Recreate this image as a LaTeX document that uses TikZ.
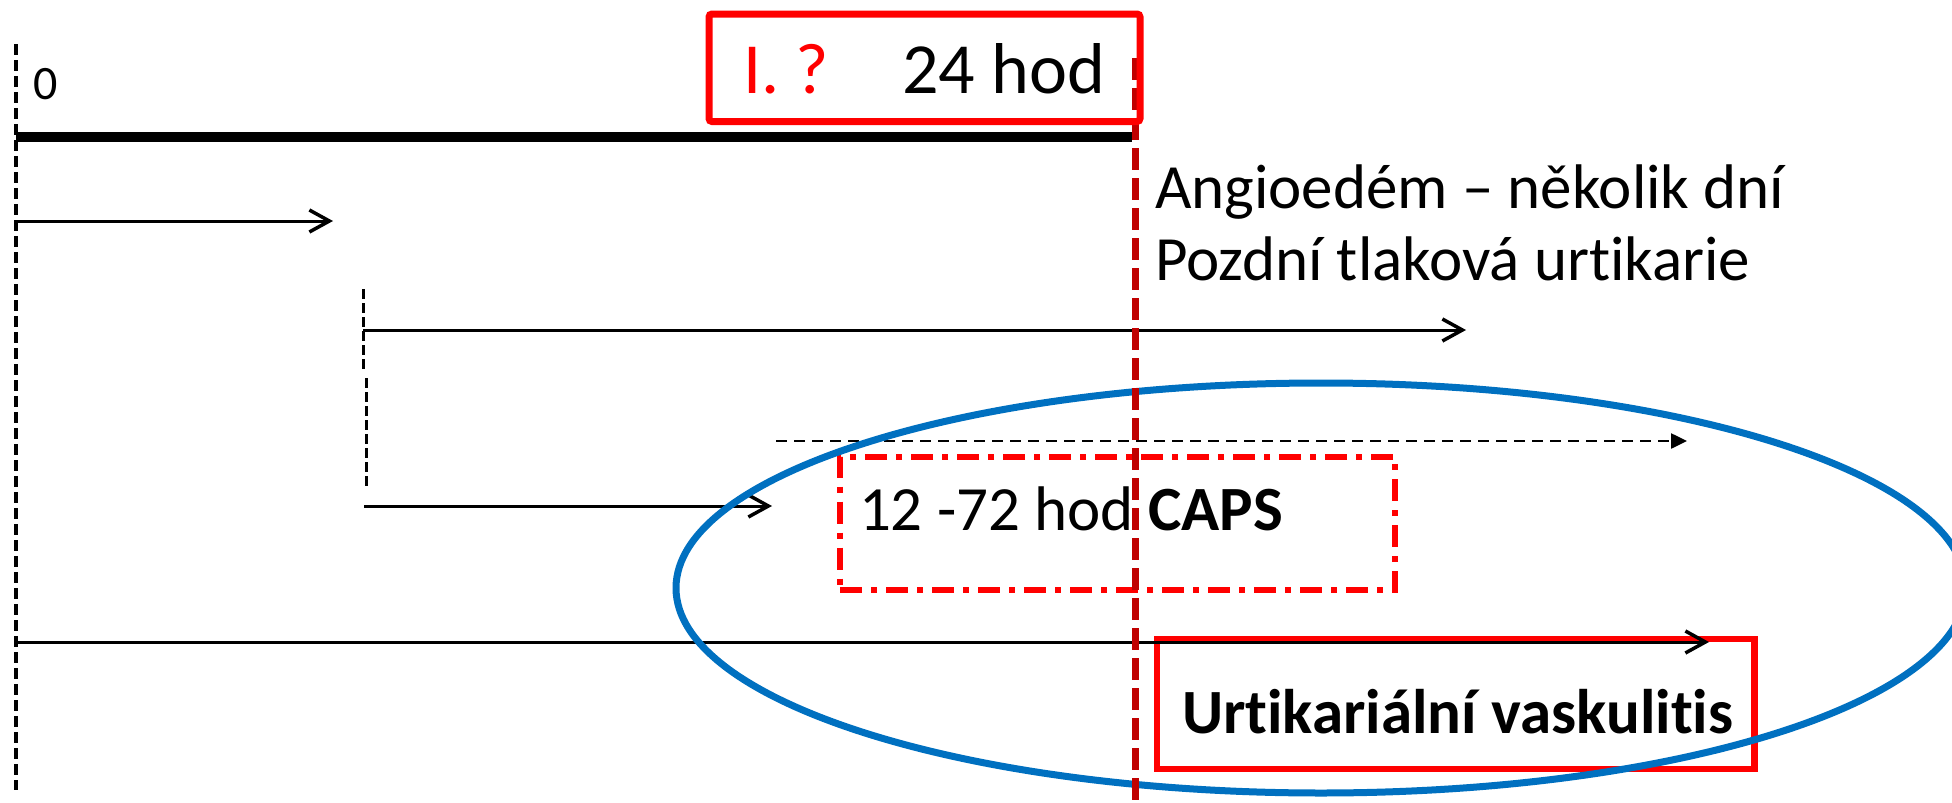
\documentclass[tikz,border=0pt]{standalone}
\usepackage{fontspec}
\setmainfont{Carlito}[Ligatures={NoCommon,NoContextual},Contextuals=NoAlternate]
\usetikzlibrary{arrows.meta}
\definecolor{boxred}{HTML}{FF0000}
\definecolor{markred}{HTML}{C00000}
\definecolor{ovalblue}{HTML}{0070C0}
\begin{document}
\begin{tikzpicture}[x=1pt,y=-1pt,
  lbl/.style={inner sep=0pt, outer sep=0pt, anchor=base west, font=\fontsize{63}{76}\selectfont},
  hdr/.style={lbl, font=\fontsize{72}{86}\selectfont},
  zero/.style={lbl, font=\fontsize{48}{58}\selectfont},
  guide/.style={line width=3.5pt, dash pattern=on 11pt off 5pt},
  tick/.style={line width=3pt, dash pattern=on 10pt off 4pt},
  span/.style={line width=3pt, -{Straight Barb[length=20pt,width=22pt,line width=3.5pt]}},
  hint/.style={line width=2.5pt, dash pattern=on 11pt off 7pt, -{Triangle[length=16pt,width=15pt]}},
  framebox/.style={draw=boxred, line width=6.5pt, inner sep=0pt, outer sep=0pt},
  capsbox/.style={draw=boxred, line width=6pt, inner sep=0pt, outer sep=0pt,
    dash pattern=on 22pt off 9pt on 6pt off 9pt},
  oval/.style={draw=ovalblue, line width=7pt},
  marker/.style={draw=markred, line width=7pt, dash pattern=on 22pt off 8pt}
]
\useasboundingbox (0,0) rectangle (1952,803);

% time axis guides
\coordinate (g0t) at (16,44);
\coordinate (g0b) at (16,790);
\draw[guide] (g0t) -- (g0b);
\coordinate (g1t) at (363,289);
\coordinate (g1b) at (363,370);
\draw[tick] (g1t) -- (g1b);
\coordinate (g2t) at (366,378);
\coordinate (g2b) at (366,487);
\draw[tick] (g2t) -- (g2b);

% first 24 hours
\coordinate (day0) at (16,137);
\coordinate (day1) at (1132,137);
\draw[line width=10pt] (day0) -- (day1);

% arrows
\coordinate (a1s) at (16,221);
\coordinate (a1e) at (333,221);
\draw[span] (a1s) -- (a1e);
\coordinate (a2s) at (363,330);
\coordinate (a2e) at (1466,330);
\draw[span] (a2s) -- (a2e);
\coordinate (a3s) at (364,506);
\coordinate (a3e) at (772,506);
\draw[span] (a3s) -- (a3e);
\coordinate (a5s) at (776,441);
\coordinate (a5e) at (1687,441);
\draw[hint] (a5s) -- (a5e);

% boxes
\node[capsbox, minimum width=555pt, minimum height=133pt] (caps) at (1117.5,523) {};
\node[framebox, minimum width=597.5pt, minimum height=130pt] (uv) at (1455.75,704) {};
\coordinate (a4s) at (16,642);
\coordinate (a4e) at (1709,642);
\draw[span] (a4s) -- (a4e);

% labels
\node[zero] (t0) at (34,99) {0};
\node[lbl] (angio) at (1155,208) {Angioedém – několik dní};
\node[lbl] (pozd) at (1155,280) {Pozdní tlaková urtikarie};
\node[lbl] (capst) at (859,530) {12 -72 hod \textbf{CAPS}};
\node[lbl] (uvt) at (1182,733) {\textbf{Urtikariální vaskulitis}};

% group oval
\coordinate (grp) at (1321,588);
\draw[oval] (grp) ellipse [x radius=645pt, y radius=205pt];

% 24 h marker
\coordinate (mt) at (1135,58);
\coordinate (mb) at (1135,803);
\draw[marker] (mt) -- (mb);

% header
\node[framebox, line width=7pt, rounded corners=3pt, minimum width=431pt, minimum height=107.5pt] (head) at (924.5,67.75) {};
\node[hdr, text=boxred] (hq) at (743,93) {I. ?};
\node[hdr] (h24) at (902,93) {24 hod};
\end{tikzpicture}
\end{document}
